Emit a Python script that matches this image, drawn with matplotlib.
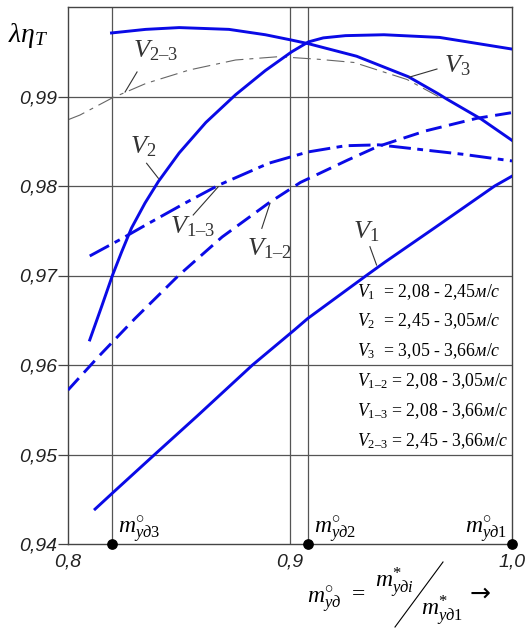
import matplotlib
matplotlib.use("Agg")
import matplotlib.pyplot as plt
from matplotlib.lines import Line2D

plt.rcParams['mathtext.fontset'] = 'custom'
plt.rcParams['mathtext.rm'] = 'Liberation Serif'
plt.rcParams['mathtext.it'] = 'Liberation Serif:italic'
plt.rcParams['font.family'] = ['Liberation Serif', 'DejaVu Serif']

# --- data ---
v1_x = [0.8122, 0.8205, 0.8386, 0.8582, 0.8831, 0.9019, 0.908, 0.9344, 0.9428, 0.965, 0.9922, 1.0]
v1_y = [0.9439, 0.9458, 0.9499, 0.9543, 0.9600, 0.9639, 0.9652, 0.9700, 0.9715, 0.9753, 0.9800, 0.9811]

v2_x = [0.8098, 0.8151, 0.8200, 0.8241, 0.8286, 0.8347, 0.8407, 0.8501, 0.8621, 0.8755,
        0.8889, 0.9008, 0.9083, 0.915, 0.925, 0.9423, 0.9674, 1.0]
v2_y = [0.9628, 0.9665, 0.9700, 0.9726, 0.9753, 0.9781, 0.9805, 0.9837, 0.9871, 0.9902,
        0.9929, 0.9950, 0.9961, 0.99655, 0.9968, 0.9969, 0.9966, 0.9953]

v3_x = [0.8196, 0.835, 0.8501, 0.8725, 0.8889, 0.9008, 0.9083, 0.930, 0.9534, 0.9668, 0.9707, 0.986, 1.0]
v3_y = [0.9971, 0.9975, 0.9977, 0.9975, 0.9969, 0.9963, 0.9959, 0.9945, 0.9922, 0.9903, 0.9897, 0.9875, 0.9851]

v12_x = [0.80, 0.8136, 0.8302, 0.8498, 0.8694, 0.8904, 0.9047, 0.926, 0.9394, 0.961, 0.9841, 1.0]
v12_y = [0.9572, 0.9609, 0.9652, 0.9700, 0.9743, 0.9781, 0.9804, 0.9829, 0.9844, 0.98615, 0.98756, 0.9882]

v13_x = [0.8098, 0.8241, 0.8347, 0.8528, 0.8679, 0.8904, 0.908, 0.925, 0.940, 0.9777, 1.0]
v13_y = [0.97218, 0.9741, 0.9756, 0.9781, 0.9801, 0.98254, 0.9838, 0.9845, 0.9846, 0.98355, 0.9828]

v23_x = [0.80, 0.8054, 0.8196, 0.8352, 0.8546, 0.8755, 0.8949, 0.9128, 0.9289, 0.9527, 0.9668]
v23_y = [0.9874, 0.98793, 0.9898, 0.99147, 0.99296, 0.99408, 0.99445, 0.99416, 0.9938, 0.9919, 0.9900]

m_x = [0.82, 0.908, 1.0]
m_labels = [r'$m^{\circ}_{уд3}$', r'$m^{\circ}_{уд2}$', r'$m^{\circ}_{уд1}$']

grid_y = [0.95, 0.96, 0.97, 0.98, 0.99]
grid_x = [0.82, 0.90, 0.908]

y_ticks = [0.94, 0.95, 0.96, 0.97, 0.98, 0.99]
y_ticklabels = ['0,94', '0,95', '0,96', '0,97', '0,98', '0,99']
x_ticks = [0.8, 0.9, 1.0]
x_ticklabels = ['0,8', '0,9', '1,0']

legend_lines = [
    r'$V_1$  = 2,08 - 2,45$м/с$',
    r'$V_2$  = 2,45 - 3,05$м/с$',
    r'$V_3$  = 3,05 - 3,66$м/с$',
    r'$V_{\mathrm{1–2}}$ = 2,08 - 3,05$м/с$',
    r'$V_{\mathrm{1–3}}$ = 2,08 - 3,66$м/с$',
    r'$V_{\mathrm{2–3}}$ = 2,45 - 3,66$м/с$',
]

blue = '#0a0ae6'
gcol = '#555555'

fig = plt.figure(figsize=(5.31, 6.31), dpi=100)
ax = fig.add_axes([68/531, 1 - 544/631, 444/531, 537/631])
ax.set_xlim(0.8, 1.0)
ax.set_ylim(0.94, 1.0)

for gy in grid_y:
    ax.axhline(gy, color=gcol, lw=0.9, zorder=1)
for gx in grid_x:
    ax.axvline(gx, color=gcol, lw=0.9, zorder=1)

kw = dict(color=blue, lw=2.1, zorder=3, solid_joinstyle='round', dash_joinstyle='round')
ax.plot(v23_x, v23_y, color='#666666', lw=0.8, ls=(0, (16, 5.4, 3.6, 5.4)), zorder=2)
ax.plot(v1_x, v1_y, **kw)
ax.plot(v2_x, v2_y, **kw)
ax.plot(v3_x, v3_y, **kw)
ax.plot(v12_x, v12_y, ls=(0, (5.5, 2.6)), **kw)
ax.plot(v13_x, v13_y, ls=(0, (7.5, 2.2, 2.0, 2.2)), **kw)

# curve labels with leaders
curve_labels = [
    (r'$V_{\mathrm{2–3}}$', (0.8293, 0.9944), (0.8311, 0.99274), (0.8257, 0.9905)),
    (r'$V_3$', (0.9693, 0.99274), (0.9662, 0.99307), (0.9536, 0.99215)),
    (r'$V_2$', (0.8279, 0.98369), (0.8354, 0.98254), (0.8407, 0.98086)),
    (r'$V_{\mathrm{1–3}}$', (0.8459, 0.97475), (0.8564, 0.97676), (0.8677, 0.97992)),
    (r'$V_{\mathrm{1–2}}$', (0.8806, 0.97229), (0.8873, 0.97527), (0.8910, 0.97807)),
    (r'$V_1$', (0.9284, 0.97419), (0.9360, 0.97322), (0.9390, 0.97117)),
]
for txt, pos, a, b in curve_labels:
    ax.text(pos[0], pos[1], txt, fontsize=19, color='#333333', ha='left', va='baseline', zorder=5)
    ax.plot([a[0], b[0]], [a[1], b[1]], color='#333333', lw=0.8, zorder=5)

# legend block
legend_y = [0.9682, 0.9649, 0.9616, 0.9582, 0.9549, 0.9515]
for txt, ly in zip(legend_lines, legend_y):
    ax.text(0.930, ly, txt, fontsize=12.8, ha='left', va='center', color='black', zorder=5)

# marked points on the x axis
ax.scatter(m_x, [0.94] * len(m_x), s=45, color='black', zorder=6, clip_on=False)
ax.text(0.8223, 0.9412, m_labels[0], fontsize=17, ha='left', va='baseline')
ax.text(0.9108, 0.9412, m_labels[1], fontsize=17, ha='left', va='baseline')
ax.text(0.9977, 0.9412, m_labels[2], fontsize=17, ha='right', va='baseline')

for s in ax.spines.values():
    s.set_color('#444444')
    s.set_linewidth(1.0)

ax.set_yticks(y_ticks)
ax.set_yticklabels(y_ticklabels)
ax.set_xticks(x_ticks)
ax.set_xticklabels(x_ticklabels)
ax.tick_params(axis='y', direction='out', length=7, width=0.9, color='#444444', pad=1)
ax.tick_params(axis='x', length=0, pad=7)
for lab in ax.get_yticklabels() + ax.get_xticklabels():
    lab.set_family(['Liberation Sans', 'DejaVu Sans'])
    lab.set_style('italic')
    lab.set_fontsize(14)
    lab.set_color('#222222')

# y axis label
fig.text(8/531, 1 - 42/631, r'$\lambda\eta_T$', fontsize=20, ha='left', va='baseline')

# x axis label: m°_уд = m*_удi / m*_уд1 ->
fig.text(307/531, 1 - 604/631, r'$m^{\circ}_{уд}$', fontsize=17, ha='left', va='baseline')
fig.text(352/531, 1 - 600/631, '=', fontsize=17, ha='left', va='baseline')
fig.text(375/531, 1 - 588/631, r'$m^{*}_{удi}$', fontsize=17, ha='left', va='baseline')
fig.text(421/531, 1 - 616/631, r'$m^{*}_{уд1}$', fontsize=17, ha='left', va='baseline')
fig.add_artist(Line2D([443/531, 395/531], [1 - 562/631, 1 - 627/631], color='black', lw=0.8))
fig.text(470/531, 1 - 601/631, '→', fontsize=18, ha='left', va='baseline', family='DejaVu Sans')

fig.savefig('out.png', dpi=100)
